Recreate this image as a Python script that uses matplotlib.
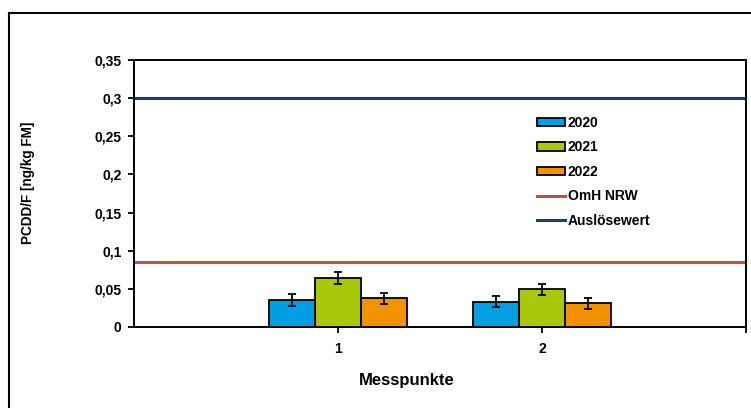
import matplotlib
matplotlib.use("Agg")
import matplotlib.pyplot as plt
from matplotlib.lines import Line2D
import numpy as np

plt.rcParams['font.family'] = ['Liberation Sans', 'DejaVu Sans']
plt.rcParams['font.weight'] = 'bold'

categories = ['1', '2']
years = ['2020', '2021', '2022']
values = {
    '2020': [0.0354, 0.0332],
    '2021': [0.0640, 0.0495],
    '2022': [0.0377, 0.0310],
}
errors = {
    '2020': [0.0077, 0.0075],
    '2021': [0.0077, 0.0075],
    '2022': [0.0075, 0.0075],
}
colors = {'2020': '#009fe3', '2021': '#aac80a', '2022': '#f39200'}
omh_nrw = 0.0857
ausloesewert = 0.30
yticks = [0, 0.05, 0.1, 0.15, 0.2, 0.25, 0.3, 0.35]
ytick_labels = ['0', '0,05', '0,1', '0,15', '0,2', '0,25', '0,3', '0,35']

W, H = 751, 408
fig = plt.figure(figsize=(W / 100, H / 100), dpi=100)
ax = fig.add_axes([134 / W, 1 - 327 / H, (746 - 134) / W, (327 - 60) / H])

x = np.arange(1, len(categories) + 1)
bw = 0.224
bars = []
for i, y in enumerate(years):
    b = ax.bar(x + (i - 1) * bw, values[y], bw, color=colors[y], edgecolor='black',
               linewidth=1.3, yerr=errors[y], zorder=3,
               error_kw=dict(ecolor='black', elinewidth=1.3, capsize=3, capthick=1.3),
               label=y)
    bars.append(b)

l1 = ax.axhline(omh_nrw, color='#c0504d', linewidth=2.2, zorder=2, label='OmH NRW')
l2 = ax.axhline(ausloesewert, color='#1f3d6e', linewidth=2.2, zorder=2, label='Auslösewert')

ax.set_xlim(0, 3)
ax.set_ylim(0, 0.35)
ax.set_yticks(yticks)
ax.set_yticklabels(ytick_labels, fontsize=10, fontweight='bold')
ax.set_xticks([1, 2, 3])
ax.set_xticklabels(categories + [''], fontsize=10, fontweight='bold')
ax.tick_params(axis='both', direction='out', length=4, width=1.3, color='black')
ax.tick_params(axis='x', pad=7)
ax.tick_params(axis='y', pad=5)
for s in ax.spines.values():
    s.set_linewidth(1.4)
    s.set_color('black')

fig.text(407 / W, 1 - 381 / H, 'Messpunkte', ha='center', va='center',
         fontsize=12, fontweight='bold')
fig.text(28 / W, 1 - 183 / H, 'PCDD/F [ng/kg FM]', ha='center', va='center',
         rotation=90, fontsize=9.8, fontweight='bold')

handles = bars + [l1, l2]
labels = years + ['OmH NRW', 'Auslösewert']
leg = ax.legend(handles, labels, loc='upper left', bbox_to_anchor=(537 / W, 1 - 116 / H),
                bbox_transform=fig.transFigure, frameon=False,
                prop=dict(size=10, weight='bold'), handlelength=2.0,
                handleheight=0.55, handletextpad=0.2, labelspacing=0.75,
                borderaxespad=0, borderpad=0)

# outer chart frame
fig.add_artist(Line2D([9 / W, 9 / W], [0, 1 - 13 / H], transform=fig.transFigure,
                      color='black', linewidth=1.5))
fig.add_artist(Line2D([9 / W, 1], [1 - 13 / H, 1 - 13 / H], transform=fig.transFigure,
                      color='black', linewidth=1.5))

fig.savefig('out.png', dpi=100)
